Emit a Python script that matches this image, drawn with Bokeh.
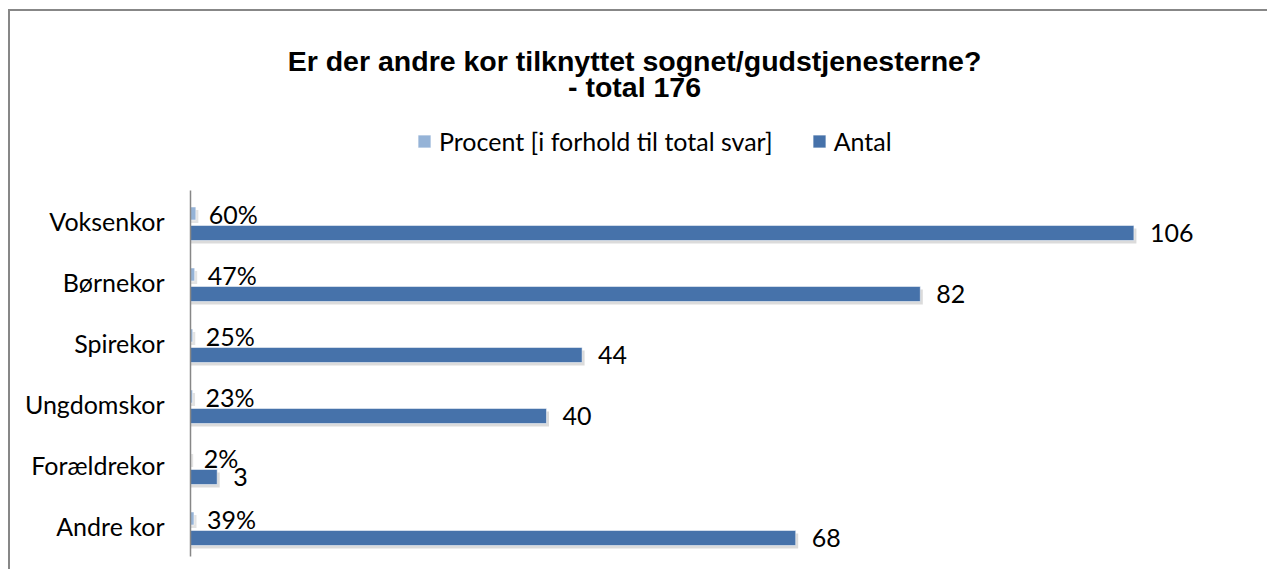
from bokeh.plotting import figure
from bokeh.models import Range1d, FixedTicker, ColumnDataSource, Legend, LegendItem
from bokeh.embed import file_html
from bokeh.resources import INLINE
from bokeh.core.properties import value

# ---------------- data ----------------
categories = ["Voksenkor", "Børnekor", "Spirekor", "Ungdomskor", "Forældrekor", "Andre kor"]
antal = [106, 82, 44, 40, 3, 68]
procent = [60, 47, 25, 23, 2, 39]
series_names = ["Procent [i forhold til total svar]", "Antal"]
title_line1 = "Er der andre kor tilknyttet sognet/gudstjenesterne?"
title_line2 = "- total 176"

# ---------------- layout constants ----------------
W, H = 1259, 560
LEFT, RIGHT, TOP, BOTTOM = 180, 0, 0, 10
PX_PER_UNIT = 8.9          # horizontal pixels per unit of value
ROW_PX = 61                # pixels per category row
AXIS_TOP_PX = 179          # canvas px of the top of the category axis
FRAME_H = H - TOP - BOTTOM
FRAME_W = W - LEFT - RIGHT
n = len(categories)

y_top_data = n + 0.5 + (AXIS_TOP_PX - TOP) / ROW_PX
y_bot_data = y_top_data - FRAME_H / ROW_PX
x_end = FRAME_W / PX_PER_UNIT


def cy(canvas_y):
    return y_top_data - (canvas_y - TOP) / ROW_PX


def cx(canvas_x):
    return (canvas_x - LEFT) / PX_PER_UNIT


pos = [n - i for i in range(n)]
OFF_P = 7.5 / ROW_PX
OFF_A = -12 / ROW_PX
H_P = 13 / ROW_PX
H_A = 15 / ROW_PX

FONT = "Lato"
FS = "25px"
C_ANTAL = "#4672AA"
C_PROC = "#95B3D7"

src = ColumnDataSource(dict(
    pos=pos,
    yp=[p + OFF_P for p in pos],
    ya=[p + OFF_A for p in pos],
    ysp=[p + OFF_P - 3 / ROW_PX for p in pos],
    ysa=[p + OFF_A - 3 / ROW_PX for p in pos],
    antal=antal,
    procfrac=[v / 100 for v in procent],
    antal_sh=[v + 2.5 / PX_PER_UNIT for v in antal],
    proc_sh=[v / 100 + 2.5 / PX_PER_UNIT for v in procent],
    alab=[str(v) for v in antal],
    plab=[f"{v}%" for v in procent],
))

p = figure(width=W, height=H, output_backend="svg", toolbar_location=None,
           x_range=Range1d(0, x_end), y_range=Range1d(y_bot_data, y_top_data),
           min_border_left=LEFT, min_border_right=RIGHT,
           min_border_top=TOP, min_border_bottom=BOTTOM)
p.styles = {"border-top": "2px solid #878787", "border-left": "2px solid #878787",
            "margin-left": "8px", "margin-top": "9px"}
p.outline_line_color = None
p.xgrid.visible = False
p.ygrid.visible = False
p.xaxis.visible = False

# shadows
p.hbar(y="ysa", left=0, right="antal_sh", height=H_A, source=src,
       fill_color="#b0b0b0", fill_alpha=0.45, line_color=None)
p.hbar(y="ysp", left=0, right="proc_sh", height=H_P, source=src,
       fill_color="#b0b0b0", fill_alpha=0.35, line_color=None)

# bars
rp = p.hbar(y="yp", left=0, right="procfrac", height=H_P, source=src,
            fill_color=C_PROC, line_color="white", line_width=0.5)
ra = p.hbar(y="ya", left=0, right="antal", height=H_A, source=src,
            fill_color=C_ANTAL, line_color="white", line_width=0.5)

# data labels
p.text(x="procfrac", y="yp", text="plab", source=src, x_offset=13,
       text_baseline="middle", text_align="left",
       text_font=value(FONT), text_font_size=FS, text_color="black")
p.text(x="antal", y="ya", text="alab", source=src, x_offset=16,
       text_baseline="middle", text_align="left",
       text_font=value(FONT), text_font_size=FS, text_color="black")

# y axis
yax = p.yaxis[0]
yax.ticker = FixedTicker(ticks=pos)
yax.major_label_overrides = {k: c for k, c in zip(pos, categories)}
yax.bounds = (0.5, n + 0.5)
yax.axis_line_color = "#878787"
yax.axis_line_width = 1.5
yax.major_tick_line_color = None
yax.minor_tick_line_color = None
yax.major_label_standoff = 20
yax.major_label_text_font = FONT
yax.major_label_text_font_size = FS
yax.major_label_text_color = "black"

# title
p.text(x=[cx(624)], y=[cy(49)], text=[title_line1], text_align="center",
       text_baseline="middle", text_font=value("Liberation Sans"),
       text_font_style="bold", text_font_size="28.5px", text_color="black")
p.text(x=[cx(624)], y=[cy(75)], text=[title_line2], text_align="center",
       text_baseline="middle", text_font=value("Liberation Sans"),
       text_font_style="bold", text_font_size="28.5px", text_color="black")

# legend
legend = Legend(items=[LegendItem(label=series_names[0], renderers=[rp]),
                       LegendItem(label=series_names[1], renderers=[ra])],
                orientation="horizontal", location=(226, 405),
                glyph_width=16, glyph_height=16, label_standoff=7, spacing=38,
                padding=0, margin=0, border_line_color=None, background_fill_alpha=0,
                label_text_font=FONT, label_text_font_size=FS, label_height=24,
                label_text_color="black")
p.add_layout(legend, "center")

open("out.html", "w").write(file_html(p, INLINE))
